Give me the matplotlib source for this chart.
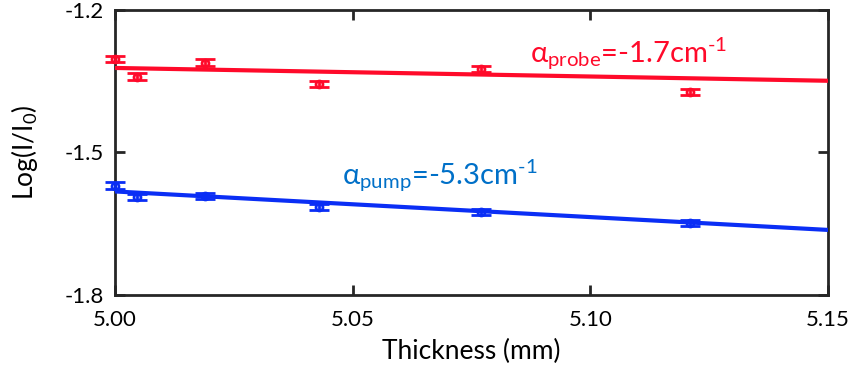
import matplotlib
matplotlib.use("Agg")
import matplotlib.pyplot as plt
import numpy as np

plt.rcParams['font.family'] = ['Lato', 'DejaVu Sans']
plt.rcParams['mathtext.fontset'] = 'custom'
plt.rcParams['mathtext.rm'] = 'Lato'
plt.rcParams['mathtext.it'] = 'Lato'
plt.rcParams['mathtext.bf'] = 'Lato:bold'

thickness = [5.000, 5.0046, 5.019, 5.043, 5.077, 5.121]
probe = [-1.303, -1.340, -1.311, -1.356, -1.324, -1.373]
probe_err = [0.007, 0.007, 0.007, 0.006, 0.006, 0.006]
pump = [-1.570, -1.593, -1.591, -1.615, -1.625, -1.648]
pump_err = [0.007, 0.006, 0.006, 0.006, 0.006, 0.006]
fit_x = [5.00, 5.15]
probe_fit = [-1.322, -1.349]
pump_fit = [-1.582, -1.663]

xticks = [5.00, 5.05, 5.10, 5.15]
xticklabels = ['5.00', '5.05', '5.10', '5.15']
yticks = [-1.8, -1.5, -1.2]
yticklabels = ['-1.8', '-1.5', '-1.2']

red = '#FF0A2A'
blue = '#0A2EF5'

fig = plt.figure(figsize=(8.54, 3.79), dpi=100)
ax = fig.add_axes([115/854, 1-295/379, 713/854, 285/379])

ax.plot(fit_x, probe_fit, color=red, lw=3, zorder=3)
ax.plot(fit_x, pump_fit, color=blue, lw=3, zorder=3)
ax.errorbar(thickness, probe, yerr=probe_err, fmt='o', color=red, ms=5,
            mfc='none', mew=2, capsize=7, capthick=2.5, elinewidth=2, zorder=4, clip_on=False)
ax.errorbar(thickness, pump, yerr=pump_err, fmt='o', color=blue, ms=5,
            mfc='none', mew=2, capsize=7, capthick=2.5, elinewidth=2, zorder=4, clip_on=False)

ax.set_xlim(5.00, 5.15)
ax.set_ylim(-1.8, -1.2)
ax.set_xticks(xticks)
ax.set_xticklabels(xticklabels)
ax.set_yticks(yticks)
ax.set_yticklabels(yticklabels)
ax.tick_params(direction='in', length=7, width=2, labelsize=16, color='#262626',
               top=True, right=True)
ax.tick_params(axis='x', pad=11)
ax.tick_params(axis='y', pad=8)
for s in ax.spines.values():
    s.set_linewidth(2)
    s.set_color('#262626')

ax.set_xlabel('Thickness (mm)', fontsize=19, labelpad=6)
ax.set_ylabel(r'Log(I/I$_\mathrm{0}$)', fontsize=19, labelpad=18)

ax.text(5.0873, -1.293, r'α$_{\mathrm{probe}}$=-1.7cm$^{\mathrm{\text{-}1}}$', color=red,
        fontsize=21, ha='left', va='center')
ax.text(5.0477, -1.55, r'α$_{\mathrm{pump}}$=-5.3cm$^{\mathrm{\text{-}1}}$', color='#0070C8',
        fontsize=21, ha='left', va='center')

fig.savefig('out.png', dpi=100)
